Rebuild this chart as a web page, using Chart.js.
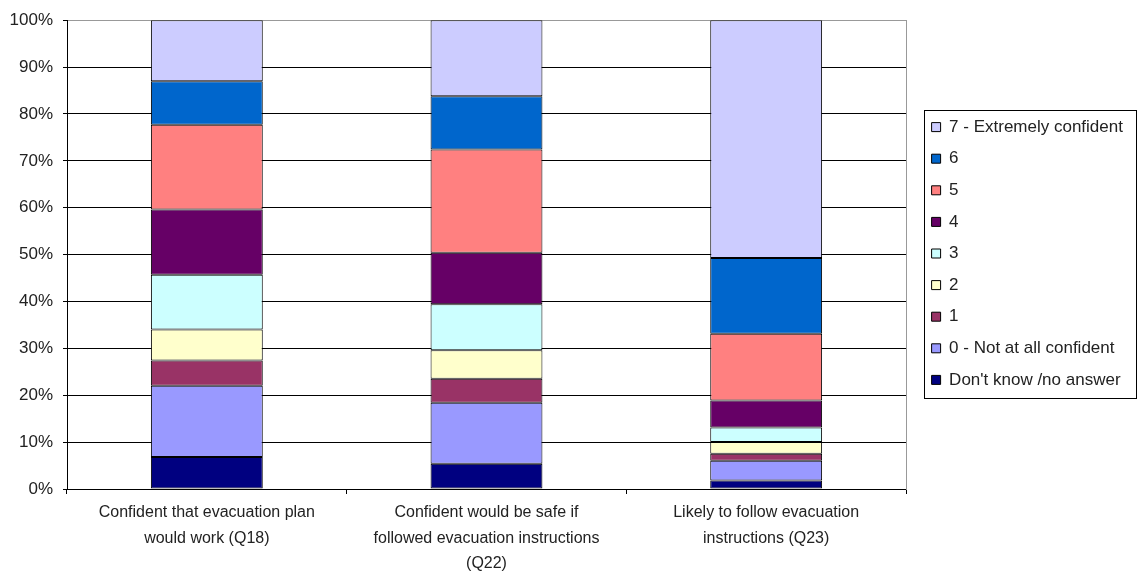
<!DOCTYPE html>
<html>
<head>
<meta charset="utf-8">
<script src="https://cdn.jsdelivr.net/npm/chart.js@4"></script>
<style>
  body { margin: 0; background: #fff; }
</style>
</head>
<body>
<canvas id="chart" width="1139" height="575"></canvas>
<script>
// categories (x axis)
const categories = [
  ["Confident that evacuation plan", "would work (Q18)"],
  ["Confident would be safe if", "followed evacuation instructions", "(Q22)"],
  ["Likely to follow evacuation", "instructions (Q23)"],
];

// series, bottom to top (% of respondents)
const seriesNames = [
  "Don't know /no answer",
  "0 - Not at all confident",
  "1",
  "2",
  "3",
  "4",
  "5",
  "6",
  "7 - Extremely confident",
];
const dontKnow = [6.8, 5.4, 1.8];
const conf0 = [15.2, 13.0, 4.2];
const conf1 = [5.4, 5.1, 1.5];
const conf2 = [6.6, 6.1, 2.5];
const conf3 = [11.7, 9.8, 3.1];
const conf4 = [13.9, 11.0, 5.8];
const conf5 = [18.1, 22.0, 14.2];
const conf6 = [9.3, 11.4, 16.2];
const conf7 = [13.0, 16.2, 50.7];
const seriesValues = [dontKnow, conf0, conf1, conf2, conf3, conf4, conf5, conf6, conf7];

// y tick range
const yMin = 0;
const yMax = 100;
const yStep = 10;

const colors = [
  "#000080", "#9999ff", "#993366", "#ffffcc", "#ccffff",
  "#660066", "#ff8080", "#0066cc", "#ccccff",
];

const textColor = "#222";
const family = "'Liberation Sans', Arial, sans-serif";

// legend: fixed width, nudged into place, framed
const legendFrame = {
  id: "legendFrame",
  beforeInit(chart) {
    const fit = chart.legend.fit;
    chart.legend.fit = function () {
      fit.bind(chart.legend)();
      this.width = 233;
    };
  },
  afterLayout(chart) {
    const lg = chart.legend;
    lg.left += 11;
    lg.right += 11;
    lg.top -= 43;
    lg.bottom -= 43;
  },
  afterDraw(chart) {
    const lg = chart.legend;
    const hb = lg.legendHitBoxes;
    if (!hb || !hb.length) return;
    const top = Math.round(hb[0].top) - 9;
    const last = hb[hb.length - 1];
    const bottom = Math.round(last.top + last.height) + 10;
    const left = Math.round(lg.left) + 7;
    const ctx = chart.ctx;
    ctx.save();
    ctx.strokeStyle = "#000";
    ctx.lineWidth = 1;
    ctx.strokeRect(left + 0.5, top + 0.5, chart.width - 3 - left, bottom - top);
    ctx.restore();
  },
};

new Chart(document.getElementById("chart"), {
  type: "bar",
  data: {
    labels: categories,
    datasets: seriesValues.map((vals, i) => ({
      label: seriesNames[i],
      data: vals,
      backgroundColor: colors[i],
      borderColor: "#000",
      borderWidth: 1,
      borderSkipped: false,
      barPercentage: 0.4,
      categoryPercentage: 1,
    })),
  },
  options: {
    responsive: false,
    animation: false,
    layout: { padding: { top: 18, left: 0, right: 0, bottom: 0 } },
    plugins: {
      tooltip: { enabled: false },
      legend: {
        position: "right",
        reverse: true,
        labels: {
          boxWidth: 9,
          boxHeight: 9,
          padding: 14.6,
          color: textColor,
          font: { family, size: 17 },
        },
      },
    },
    scales: {
      x: {
        stacked: true,
        afterFit(s) { s.height = 86; },
        grid: {
          drawOnChartArea: false,
          drawTicks: true,
          tickLength: 5,
          tickColor: "#000",
        },
        border: { color: "#000" },
        ticks: {
          color: textColor,
          font: { family, size: 16, lineHeight: 1.6 },
          padding: 6,
          maxRotation: 0,
          autoSkip: false,
        },
      },
      y: {
        stacked: true,
        min: yMin,
        max: yMax,
        afterFit(s) { s.width = 67; },
        grid: {
          color: (c) => (c.tick && c.tick.value === yMax ? "#999" : "#000"),
          tickColor: "#000",
          tickLength: 4,
        },
        border: { color: "#000" },
        ticks: {
          stepSize: yStep,
          color: textColor,
          font: { family, size: 17 },
          padding: 10,
          callback: (v) => v + "%",
        },
      },
      y2: {
        position: "right",
        min: yMin,
        max: yMax,
        afterFit(s) { s.width = 0; },
        grid: { drawOnChartArea: false, drawTicks: false },
        border: { color: "#999" },
        ticks: { display: false },
      },
    },
  },
  plugins: [legendFrame],
});
</script>
</body>
</html>
